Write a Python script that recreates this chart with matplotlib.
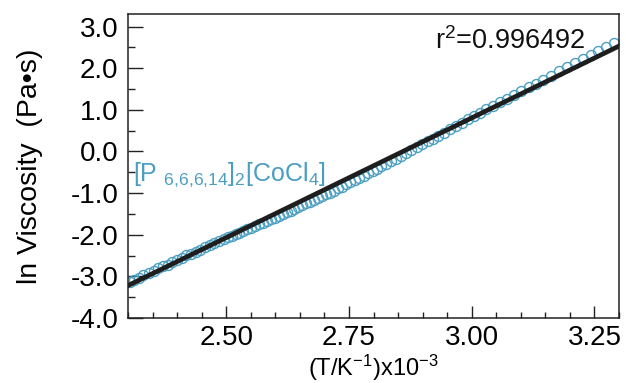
import matplotlib
matplotlib.use("Agg")
import matplotlib.pyplot as plt
from matplotlib.ticker import MultipleLocator, FormatStrFormatter

# ======================== DATA ========================
# x = 1000/T, y = ln viscosity (Pa s)
inv_temp = [2.304, 2.313, 2.322, 2.331, 2.342, 2.352, 2.362, 2.371, 2.381, 2.390,
            2.400, 2.409, 2.419, 2.428, 2.438, 2.447, 2.457, 2.466, 2.476, 2.485,
            2.495, 2.503, 2.511, 2.519, 2.527, 2.535, 2.543, 2.551, 2.559, 2.567,
            2.575, 2.583, 2.591, 2.599, 2.607, 2.615, 2.623, 2.631, 2.639, 2.647,
            2.655, 2.663, 2.671, 2.679, 2.687, 2.695, 2.703, 2.711, 2.719, 2.727,
            2.735, 2.744, 2.753, 2.762, 2.771, 2.780, 2.789, 2.798, 2.807, 2.816,
            2.825, 2.835, 2.845, 2.855, 2.866, 2.877, 2.888, 2.899, 2.910, 2.921,
            2.932, 2.944, 2.956, 2.968, 2.980, 2.992, 3.004, 3.017, 3.030, 3.043,
            3.057, 3.071, 3.086, 3.101, 3.116, 3.131, 3.146, 3.162, 3.178, 3.194,
            3.210, 3.226, 3.242, 3.258, 3.274, 3.290]
ln_visc = [-3.13, -3.08, -3.03, -2.96, -2.92, -2.87, -2.79, -2.76, -2.72, -2.66,
           -2.60, -2.56, -2.48, -2.46, -2.42, -2.36, -2.30, -2.25, -2.20, -2.15,
           -2.10, -2.06, -2.02, -1.98, -1.95, -1.91, -1.87, -1.83, -1.79, -1.75,
           -1.71, -1.67, -1.63, -1.59, -1.55, -1.51, -1.46, -1.42, -1.38, -1.34,
           -1.29, -1.25, -1.21, -1.16, -1.12, -1.08, -1.03, -0.99, -0.94, -0.89,
           -0.85, -0.79, -0.74, -0.69, -0.63, -0.58, -0.52, -0.47, -0.41, -0.36,
           -0.30, -0.24, -0.17, -0.11, -0.04, 0.03, 0.10, 0.17, 0.24, 0.31,
           0.38, 0.45, 0.53, 0.61, 0.69, 0.77, 0.84, 0.92, 1.01, 1.09,
           1.18, 1.26, 1.35, 1.45, 1.54, 1.63, 1.72, 1.82, 1.92, 2.02,
           2.12, 2.21, 2.31, 2.41, 2.51, 2.61]

# linear fit
fit_slope = 5.75
fit_intercept = -16.445
fit_x = [2.30, 3.30]
r_squared = "0.996492"

x_ticks = [2.50, 2.75, 3.00, 3.25]

# ======================== STYLE ========================
plt.rcParams['font.family'] = ['Liberation Sans', 'DejaVu Sans']
plt.rcParams['mathtext.fontset'] = 'custom'
plt.rcParams['mathtext.rm'] = 'Liberation Sans'
plt.rcParams['mathtext.it'] = 'Liberation Sans'
plt.rcParams['mathtext.default'] = 'regular'
plt.rcParams['axes.unicode_minus'] = False

teal = '#4a9fc1'

fig = plt.figure(figsize=(6.26, 3.83), dpi=100)
ax = fig.add_axes([0.2045, 0.1697, 0.7843, 0.7937])

# ======================== PLOT ========================
ax.plot(inv_temp, ln_visc, 'o', mfc='none', mec=teal, ms=7.2, mew=1.0, zorder=2)
fit_y = [fit_slope * x + fit_intercept for x in fit_x]
ax.plot(fit_x, fit_y, '-', color='#1e1e1e', lw=3.4, zorder=3)

ax.set_xlim(2.30, 3.30)
ax.set_ylim(-4.0, 3.3)
ax.set_xticks(x_ticks)
ax.xaxis.set_minor_locator(MultipleLocator(0.05))
ax.yaxis.set_major_locator(MultipleLocator(1.0))
ax.yaxis.set_minor_locator(MultipleLocator(0.5))
ax.xaxis.set_major_formatter(FormatStrFormatter('%.2f'))
ax.yaxis.set_major_formatter(FormatStrFormatter('%.1f'))

ax.tick_params(axis='both', which='both', direction='in', top=False, right=False,
               labelsize=20, width=1.0, color='#222222')
ax.tick_params(axis='y', which='major', length=10.5, pad=7)
ax.tick_params(axis='y', which='minor', length=5)
ax.tick_params(axis='x', which='major', length=8.5, pad=5)
ax.tick_params(axis='x', which='minor', length=4)
for s in ax.spines.values():
    s.set_linewidth(1.1)
    s.set_color('#222222')

ax.set_xlabel('(T/K$^{-1}$)x10$^{-3}$', fontsize=17, labelpad=1)
ax.set_ylabel('ln Viscosity  (Pa\u2022s)', fontsize=20.5, labelpad=20)

ax.text(0.625, 0.885, 'r$^2$=' + r_squared, transform=ax.transAxes,
        fontsize=19.5, va='baseline', ha='left', color='#111111')
ax.text(0.01, 0.45, '[P $_{6{,}6{,}6{,}14}$]$_2$[CoCl$_4$]', transform=ax.transAxes,
        fontsize=18, va='baseline', ha='left', color=teal)

fig.savefig('out.png', dpi=100)
